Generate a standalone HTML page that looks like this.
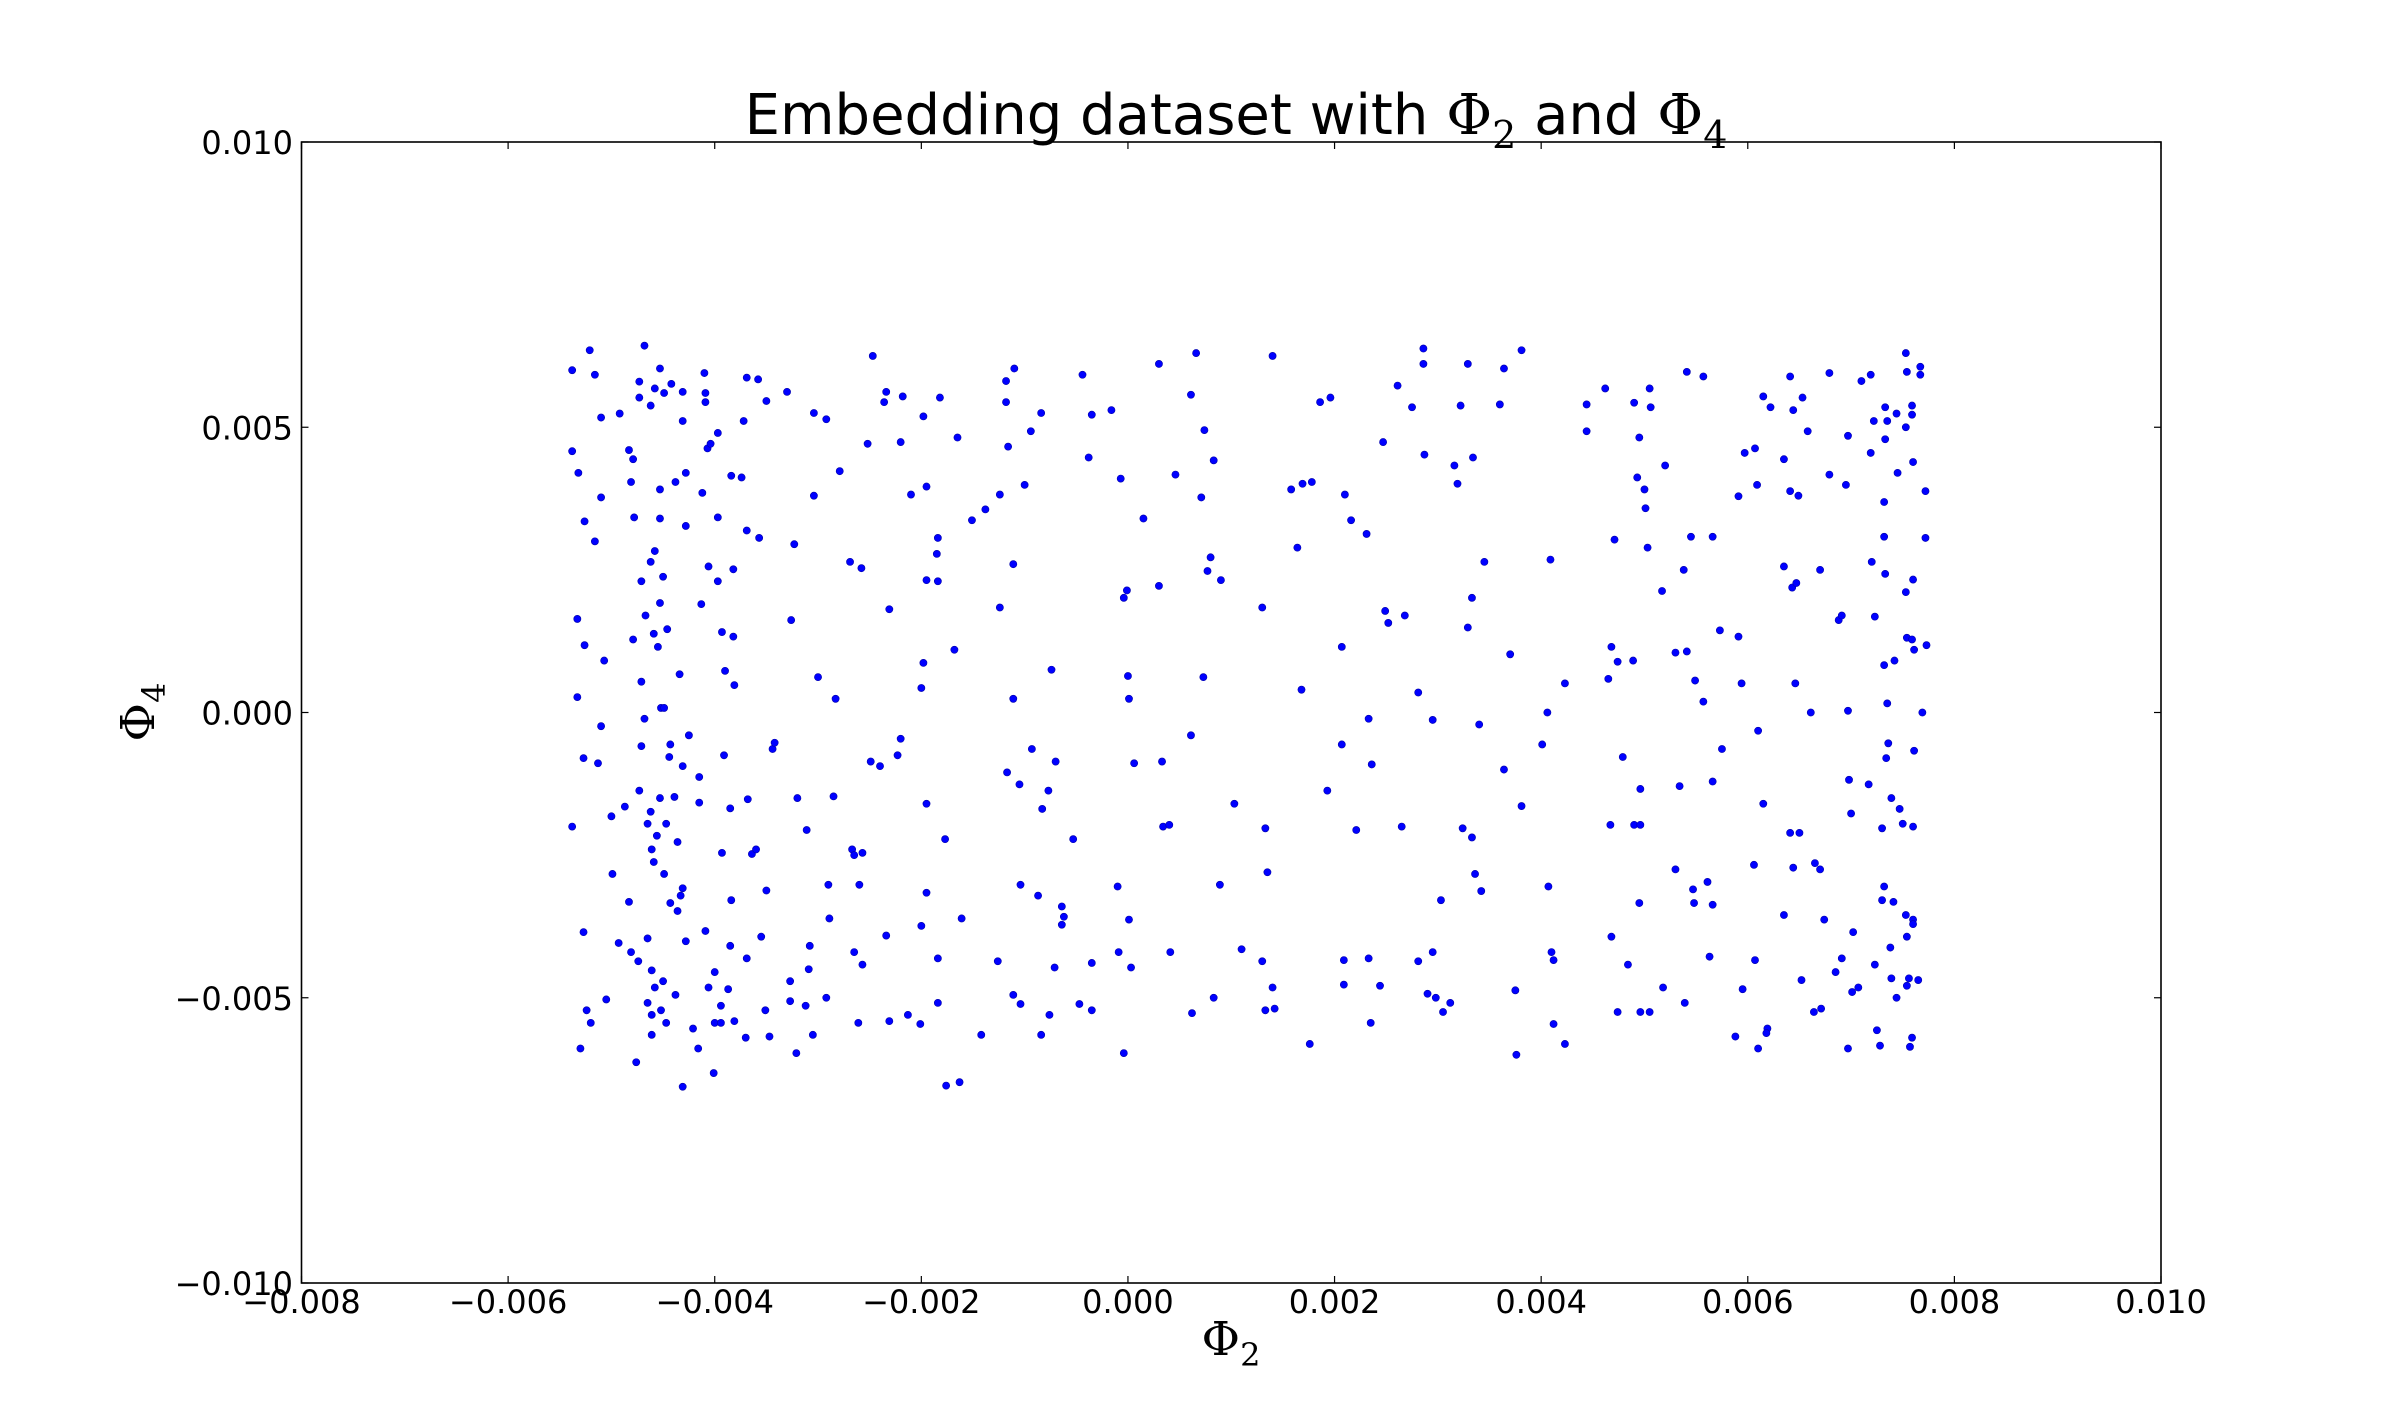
<!DOCTYPE html>
<html><head><meta charset="utf-8"><style>
html,body{margin:0;padding:0;background:#fff;}
svg{display:block;font-family:"DejaVu Sans","Liberation Sans",sans-serif;}
</style></head><body>
<svg id="chart" width="2400" height="1426" viewBox="0 0 2400 1426" xmlns="http://www.w3.org/2000/svg">
<rect width="2400" height="1426" fill="#fff"/>
<text x="1236" y="134" font-size="56" text-anchor="middle">Embedding dataset with <tspan font-family="'DejaVu Serif','Liberation Serif',serif">Φ</tspan><tspan font-family="'DejaVu Serif','Liberation Serif',serif" font-size="38" dy="14">2</tspan><tspan dy="-14"> and </tspan><tspan font-family="'DejaVu Serif','Liberation Serif',serif">Φ</tspan><tspan font-family="'DejaVu Serif','Liberation Serif',serif" font-size="38" dy="14">4</tspan></text>
<g id="ticks"></g>
<g id="points"></g>
<rect x="301.5" y="142" width="1859.5" height="1141" fill="none" stroke="#000" stroke-width="1.6"/>
<text x="1231" y="1355" font-size="47" text-anchor="middle" font-family="'DejaVu Serif','Liberation Serif',serif">Φ<tspan font-size="32" dy="11">2</tspan></text>
<text transform="translate(154,712) rotate(-90)" font-size="47" text-anchor="middle" font-family="'DejaVu Serif','Liberation Serif',serif">Φ<tspan font-size="32" dy="11">4</tspan></text>
</svg>
<script>
const xTicks = [-8,-6,-4,-2,0,2,4,6,8,10];
const xTickLabels = ["\u22120.008","\u22120.006","\u22120.004","\u22120.002","0.000","0.002","0.004","0.006","0.008","0.010"];
const yTicks = [-10,-5,0,5,10];
const yTickLabels = ["\u22120.010","\u22120.005","0.000","0.005","0.010"];
// values in units of 1e-3
const xs = [-5.38,-5.21,-5.16,-5.38,-5.32,-5.26,-5.16,-5.1,-5.1,-4.92,-4.83,-4.81,-4.73,-4.68,-4.62,-4.53,-4.42,-4.31,-4.1,-4.09,-3.97,-5.33,-5.26,-5.33,-5.07,-5.27,-5.13,-5.1,-5.38,-5.0,-4.87,-4.99,-4.83,-5.27,-4.93,-4.81,-4.74,-5.05,-5.24,-5.2,-5.3,-4.76,-4.61,-4.31,-4.01,-4.5,-4.38,-4.06,-3.81,-3.7,-4.0,-3.94,-3.51,-3.47,-3.69,-3.55,-3.85,-3.84,-4.31,-4.43,-4.36,-4.49,-4.61,-4.56,-4.65,-4.47,-4.73,-4.53,-4.39,-4.15,-4.36,-3.93,-3.85,-3.68,-3.64,-3.6,-3.5,-4.15,-4.25,-4.43,-4.71,-4.68,-4.52,-4.34,-4.71,-4.79,-4.59,-4.46,-4.67,-4.53,-4.5,-4.62,-4.58,-4.71,-4.53,-4.78,-4.53,-4.38,-4.28,-4.07,-4.12,-4.28,-4.13,-4.06,-3.97,-3.93,-3.9,-3.81,-3.91,-3.44,-3.42,-3.84,-3.74,-3.69,-3.57,-3.69,-3.58,-3.5,-3.3,-3.23,-3.26,-3.2,-3.11,-3.0,-3.04,-3.04,-2.92,-2.83,-2.85,-2.9,-2.67,-2.6,-2.57,-2.61,-3.08,-3.09,-3.27,-3.27,-3.12,-2.92,-3.21,-3.05,-2.31,-2.13,-2.01,-1.84,-1.76,-1.63,-1.42,-1.26,-1.11,-1.04,-0.76,-0.84,-0.71,-0.62,-0.64,-0.47,-0.35,-0.35,-0.09,-0.04,0.03,0.01,-0.1,0.06,0.0,0.01,-0.01,-0.04,0.15,-0.07,-0.16,-0.35,-0.44,-0.38,0.3,0.66,0.46,0.61,0.71,0.74,0.83,0.8,0.77,0.9,0.73,0.61,0.3,0.33,0.34,0.4,0.41,0.62,0.83,0.89,1.03,1.1,1.3,1.33,1.35,1.3,1.4,1.58,1.64,1.68,1.69,1.78,1.86,1.96,1.93,1.76,1.33,1.42,1.4,2.07,2.1,2.16,2.07,2.31,2.33,2.36,2.21,2.09,2.09,2.33,2.35,2.44,2.47,2.49,2.52,2.68,2.61,2.75,2.81,2.65,2.86,2.86,2.87,2.95,2.81,2.9,2.95,2.98,3.05,3.12,3.03,3.16,3.19,3.22,3.24,3.29,3.33,3.34,3.29,3.33,3.36,3.42,3.4,3.45,3.6,3.64,3.81,3.7,3.81,3.64,4.01,4.09,4.06,4.07,4.1,4.12,3.75,3.76,4.12,4.23,4.23,4.44,4.44,4.62,4.71,4.68,4.65,4.74,4.67,4.79,4.68,4.74,4.84,4.89,4.9,4.96,4.96,4.95,4.96,5.05,5.18,4.9,4.95,5.0,5.01,4.93,5.05,5.06,5.03,5.2,5.17,5.3,5.41,5.38,5.45,5.49,5.57,5.41,5.57,5.66,5.73,5.66,5.75,5.34,5.3,5.47,5.48,5.61,5.66,5.63,5.39,5.88,5.91,5.94,5.91,5.97,6.07,6.09,6.1,6.07,6.1,5.95,6.15,6.06,6.19,6.18,6.15,6.22,6.43,6.47,6.35,6.41,6.44,6.53,6.58,6.49,6.41,6.35,6.46,6.41,6.5,6.44,6.35,6.52,6.65,6.7,6.61,6.71,6.64,6.74,6.7,6.79,6.79,6.88,6.91,6.85,6.91,6.97,6.98,7.0,6.95,6.97,7.02,7.01,7.07,6.97,7.1,7.19,7.19,7.2,7.22,7.23,7.23,7.25,7.28,7.17,7.3,7.32,7.3,7.32,7.32,7.32,7.33,7.33,7.35,7.36,7.34,7.38,7.41,7.35,7.33,7.44,7.45,7.42,7.39,7.39,7.44,7.47,7.5,7.53,7.54,7.53,7.53,7.54,7.53,7.54,7.54,7.56,7.57,7.59,7.59,7.59,7.6,7.6,7.61,7.61,7.6,7.59,7.6,7.6,7.65,7.67,7.67,7.72,7.72,7.73,7.69,-4.79,-4.73,-4.58,-4.49,-4.31,-4.09,-4.04,-3.97,-3.72,-3.82,-3.82,-4.55,-4.49,-4.44,-4.31,-4.62,-4.59,-4.33,-4.65,-4.61,-4.58,-4.65,-4.61,-4.52,-4.47,-4.21,-4.16,-3.94,-3.87,-4.0,-4.28,-4.09,-2.31,-2.58,-2.69,-2.79,-2.52,-2.47,-2.36,-2.34,-2.18,-2.2,-2.1,-1.95,-1.98,-1.82,-1.65,-1.84,-1.85,-1.95,-1.84,-1.98,-2.0,-1.68,-2.2,-2.23,-2.49,-2.4,-1.95,-1.77,-1.95,-2.0,-1.84,-1.61,-2.34,-2.65,-2.65,-2.57,-2.89,-1.51,-1.38,-1.24,-1.24,-1.18,-1.18,-1.1,-1.16,-1.11,-1.11,-1.17,-1.05,-0.93,-1.0,-0.94,-0.84,-0.83,-0.77,-0.7,-0.74,-0.53,-0.87,-1.04,-0.64];
const ys = [6.0,6.35,5.92,4.58,4.2,3.35,3.0,3.77,5.17,5.24,4.6,4.04,5.8,6.43,5.38,6.03,5.76,5.62,5.95,5.6,4.9,1.64,1.18,0.27,0.91,-0.8,-0.89,-0.24,-2.0,-1.82,-1.65,-2.83,-3.32,-3.85,-4.04,-4.2,-4.36,-5.03,-5.22,-5.44,-5.89,-6.13,-5.65,-6.56,-6.32,-4.71,-4.95,-4.82,-5.41,-5.7,-5.44,-5.14,-5.22,-5.68,-4.31,-3.93,-4.09,-3.29,-3.08,-3.34,-3.48,-2.83,-2.4,-2.16,-1.95,-1.95,-1.37,-1.5,-1.48,-1.58,-2.27,-2.46,-1.68,-1.52,-2.48,-2.4,-3.12,-1.13,-0.4,-0.56,-0.59,-0.11,0.08,0.67,0.54,1.28,1.38,1.46,1.7,1.92,2.38,2.64,2.83,2.3,3.4,3.42,3.91,4.04,4.2,4.63,3.85,3.27,1.9,2.56,2.3,1.41,0.73,0.48,-0.75,-0.64,-0.53,4.15,4.12,3.19,3.06,5.87,5.84,5.46,5.62,2.95,1.62,-1.5,-2.06,0.62,3.8,5.25,5.14,0.24,-1.47,-3.02,-2.4,-3.02,-4.42,-5.44,-4.09,-4.5,-4.71,-5.06,-5.14,-5.0,-5.97,-5.65,-5.41,-5.3,-5.46,-5.09,-6.54,-6.48,-5.65,-4.36,-4.95,-5.11,-5.3,-5.65,-4.47,-3.58,-3.72,-5.11,-5.22,-4.39,-4.2,-5.97,-4.47,-3.63,-3.05,-0.89,0.64,0.24,2.14,2.01,3.4,4.1,5.3,5.22,5.92,4.47,6.11,6.3,4.17,5.57,3.77,4.95,4.42,2.72,2.48,2.32,0.62,-0.4,2.22,-0.86,-2.0,-1.97,-4.2,-5.27,-5.0,-3.02,-1.6,-4.15,1.84,-2.03,-2.8,-4.36,6.25,3.91,2.89,0.4,4.01,4.04,5.44,5.52,-1.37,-5.81,-5.22,-5.19,-4.82,1.15,3.82,3.37,-0.56,3.13,-0.11,-0.91,-2.06,-4.34,-4.77,-4.31,-5.44,-4.79,4.74,1.78,1.57,1.7,5.73,5.35,0.35,-2.0,6.38,6.11,4.52,-0.13,-4.36,-4.93,-4.2,-5.0,-5.25,-5.09,-3.29,4.33,4.01,5.38,-2.03,6.11,2.01,4.47,1.49,-2.19,-2.83,-3.13,-0.21,2.64,5.4,6.03,6.35,1.02,-1.64,-1.0,-0.56,2.68,0.0,-3.05,-4.2,-4.34,-4.87,-6.0,-5.46,-5.81,0.51,5.4,4.93,5.68,3.03,1.15,0.59,0.89,-1.97,-0.78,-3.93,-5.25,-4.42,0.91,-1.97,-1.97,-1.34,-3.34,-5.25,-5.25,-4.82,5.43,4.82,3.91,3.58,4.12,5.68,5.35,2.89,4.33,2.13,1.05,1.07,2.5,3.08,0.56,0.19,5.97,5.89,3.08,1.44,-1.21,-0.64,-1.29,-2.75,-3.1,-3.34,-2.97,-3.37,-4.28,-5.09,-5.68,1.33,0.51,3.79,4.55,4.63,3.99,-0.32,-4.34,-5.89,-4.85,-1.6,-2.67,-5.54,-5.62,5.54,5.35,2.19,2.27,4.44,5.89,5.3,5.52,4.93,3.8,3.88,2.56,0.51,-2.11,-2.11,-2.72,-3.55,-4.69,-2.64,-2.75,0.0,-5.19,-5.25,-3.63,2.5,5.95,4.17,1.62,1.7,-4.55,-4.31,0.03,-1.18,-1.77,3.99,4.85,-3.85,-4.9,-4.82,-5.89,5.81,5.92,4.55,2.64,5.11,1.68,-4.42,-5.57,-5.84,-1.26,-2.03,-3.05,-3.29,0.83,3.69,3.08,2.43,5.35,0.16,-0.54,-0.8,-4.12,-3.32,5.11,4.79,5.24,4.2,0.91,-1.5,-4.66,-5.0,-1.69,-1.95,6.3,5.97,5.0,2.11,1.31,-3.55,-3.93,-4.79,-4.66,-5.86,-5.7,5.22,5.38,4.39,2.33,1.1,-0.67,-2.0,1.28,-3.63,-3.71,-4.69,6.06,5.92,3.88,3.06,1.18,0.0,4.44,5.52,5.68,5.6,5.11,5.44,4.71,3.42,5.11,2.51,1.33,1.15,0.08,-0.78,-0.94,-1.74,-2.62,-3.21,-3.96,-4.52,-4.82,-5.09,-5.3,-5.22,-5.44,-5.54,-5.89,-5.44,-4.85,-4.55,-4.01,-3.83,1.81,2.53,2.64,4.23,4.71,6.25,5.44,5.62,5.54,4.74,3.82,3.96,5.19,5.52,4.82,3.06,2.78,2.32,2.3,0.87,0.43,1.1,-0.46,-0.75,-0.86,-0.94,-1.6,-2.22,-3.16,-3.74,-4.31,-3.61,-3.91,-4.2,-2.5,-2.46,-3.61,3.37,3.56,3.82,1.84,5.81,5.44,6.03,4.66,2.6,0.24,-1.05,-1.26,-0.64,3.99,4.93,5.25,-1.69,-1.37,-0.86,0.75,-2.22,-3.21,-3.02,-3.4];

const X0=301.5, X1=2161, Y0=1283, Y1=142;
const xMin=-8, xMax=10, yMin=-10, yMax=10;
function xScale(v){return X0+(v-xMin)/(xMax-xMin)*(X1-X0);}
function yScale(v){return Y0-(v-yMin)/(yMax-yMin)*(Y0-Y1);}
const NS="http://www.w3.org/2000/svg";
const tg=document.getElementById('ticks');
xTicks.forEach((t,i)=>{
  const x=xScale(t);
  [[Y0,Y0-7],[Y1,Y1+7]].forEach(p=>{
    const l=document.createElementNS(NS,'line');
    
    
    l.setAttribute('x1',x);l.setAttribute('x2',x);l.setAttribute('y1',p[0]);l.setAttribute('y2',p[1]);
    l.setAttribute('stroke','#000');l.setAttribute('stroke-width','1.2');tg.appendChild(l);
  });
  const tx=document.createElementNS(NS,'text');
  
  
  tx.setAttribute('x',x);tx.setAttribute('y',1313);tx.setAttribute('font-size','32');tx.setAttribute('text-anchor','middle');
  tx.textContent=xTickLabels[i];tg.appendChild(tx);
});
yTicks.forEach((t,i)=>{
  const y=yScale(t);
  [[X0,X0+7],[X1,X1-7]].forEach(p=>{
    const l=document.createElementNS(NS,'line');
    
    
    l.setAttribute('x1',p[0]);l.setAttribute('x2',p[1]);l.setAttribute('y1',y);l.setAttribute('y2',y);
    l.setAttribute('stroke','#000');l.setAttribute('stroke-width','1.2');tg.appendChild(l);
  });
  const tx=document.createElementNS(NS,'text');
  
  
  tx.setAttribute('x',293);tx.setAttribute('y',y+12);tx.setAttribute('font-size','32');tx.setAttribute('text-anchor','end');
  tx.textContent=yTickLabels[i];tg.appendChild(tx);
});
const pg=document.getElementById('points');
for(let i=0;i<xs.length;i++){
  const c=document.createElementNS(NS,'circle');
  
  
  c.setAttribute('cx',xScale(xs[i]));c.setAttribute('cy',yScale(ys[i]));c.setAttribute('r','3.6');
  c.setAttribute('fill','#0000ff');c.setAttribute('stroke','#0000aa');c.setAttribute('stroke-width','0.6');
  pg.appendChild(c);
}
</script>
</body></html>
